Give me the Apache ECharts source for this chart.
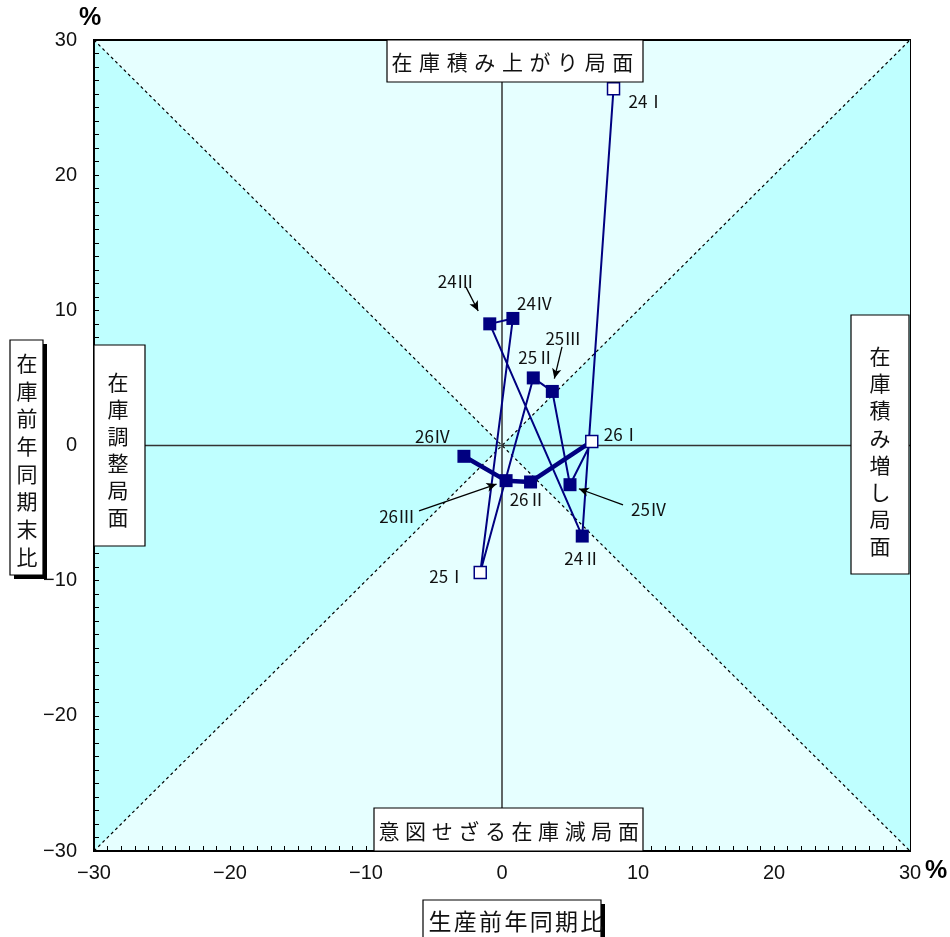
<!DOCTYPE html>
<html><head><meta charset="utf-8">
<script src="https://cdn.jsdelivr.net/npm/echarts@6/dist/echarts.min.js"></script>
<style>html,body{margin:0;padding:0;background:#fff}#c{width:950px;height:937px}</style>
</head><body><div id="c"></div><script>
// ---- data ----
const periods = ['24Ⅰ','24Ⅱ','24Ⅲ','24Ⅳ','25Ⅰ','25Ⅱ','25Ⅲ','25Ⅳ','26Ⅰ','26Ⅱ','26Ⅲ','26Ⅳ'];
const production = [8.2, 5.9, -0.9, 0.8, -1.6, 2.3, 3.7, 5.0, 6.6, 2.1, 0.3, -2.8];   // 生産前年同期比 (%)
const inventory  = [26.4, -6.7, 9.0, 9.4, -9.4, 5.0, 4.0, -2.9, 0.3, -2.7, -2.6, -0.8]; // 在庫前年同期末比 (%)
const axisMin = -30, axisMax = 30, axisStep = 10;
const xTitle = '生産前年同期比';
const yTitle = '在庫前年同期末比';
const phaseTop = '在庫積み上がり局面';
const phaseBottom = '意図せざる在庫減局面';
const phaseLeft = '在庫調整局面';
const phaseRight = '在庫積み増し局面';

// ---- annotation styling (pixel offsets of labels, arrow ends in axis units) ----
const labelOffsets = [[33,13],[0,22],[-34,-42],[22,-15],[-33,4],[3,-20],[11,-53],[79,25],[30,-7],[-3,18],[-109,36],[-31,-20]];
const arrows = [
  [[-2.65,11.72],[-1.75,9.95]],
  [[4.41,7.29],[3.85,4.95]],
  [[8.90,-4.40],[5.65,-3.2]],
  [[-6.10,-4.84],[-0.4,-2.85]]
];
const hollow = [0,4,8];
const thickFrom = 8;

const NAVY = '#000080';
const CJK = '"Noto Sans CJK JP", sans-serif';
const pts = periods.map((p,i)=>{
  const item = {name:p, value:[production[i], inventory[i]],
    label:{show:true, formatter:p, position:'inside', offset:labelOffsets[i],
      color:'#111', fontSize:17, fontFamily:CJK}};
  if (hollow.includes(i)) { item.itemStyle = {color:'#fff', borderColor:NAVY, borderWidth:1.5}; item.symbolSize = 12; }
  return item;
});
const thickPts = pts.slice(thickFrom).map(d=>d.value);

const chart = echarts.init(document.getElementById('c'), null, {renderer:'canvas'});
const minus = v => String(v).replace('-', '−');

function charBox(box, chars, positions, fontSize, shadow) {
  const els = [];
  if (shadow) els.push({type:'rect', shape:{x:box[0]+4, y:box[1]+4, width:box[2]-box[0], height:box[3]-box[1]}, style:{fill:'#000'}, z:100});
  els.push({type:'rect', shape:{x:box[0], y:box[1], width:box[2]-box[0], height:box[3]-box[1]}, style:{fill:'#fff', stroke:'#000', lineWidth:1.2}, z:101});
  [...chars].forEach((ch,i)=>{
    els.push({type:'text', x:positions[i][0], y:positions[i][1], z:102,
      style:{text:ch, fontSize:fontSize, fontFamily:CJK, fill:'#111', align:'center', verticalAlign:'middle'}});
  });
  return els;
}
function rowPos(cx0, step, y, n){ return Array.from({length:n},(_,i)=>[cx0+i*step, y]); }
function colPos(x, cy0, step, n){ return Array.from({length:n},(_,i)=>[x, cy0+i*step]); }

const graphics = [].concat(
  charBox([387,40,643,82], phaseTop, rowPos(402, 27.6, 62, 9), 21, false),
  charBox([374,808,643,851], phaseBottom, rowPos(389, 26.6, 831, 10), 21, false),
  charBox([94,345,145,546], phaseLeft, colPos(118, 382, 27, 6), 21, false),
  charBox([851,315,909,574], phaseRight, colPos(880, 356, 27.2, 8), 21, false),
  charBox([10,340,43,575], yTitle, colPos(27, 363, 27.7, 8), 21, true),
  charBox([423,900,601,945], xTitle, rowPos(440, 25.3, 921, 7), 23, true),
  [
    {type:'text', x:90, y:18, z:102, style:{text:'%', fontSize:25, fontWeight:'bold', fontFamily:'"Liberation Sans", Arial, sans-serif', fill:'#000', align:'center', verticalAlign:'middle'}},
    {type:'text', x:936, y:871, z:102, style:{text:'%', fontSize:25, fontWeight:'bold', fontFamily:'"Liberation Sans", Arial, sans-serif', fill:'#000', align:'center', verticalAlign:'middle'}}
  ]
);

const axisCommon = {
  type:'value', min:axisMin, max:axisMax, interval:axisStep,
  axisLine:{show:true, onZero:false, lineStyle:{color:'#000', width:2}},
  axisTick:{show:true, inside:true, length:5, lineStyle:{color:'#000', width:1}},
  minorTick:{show:true, splitNumber:10, length:5, lineStyle:{color:'#000', width:1}},
  splitLine:{show:false},
  axisLabel:{formatter:minus, color:'#111', fontSize:20, fontFamily:'"Liberation Sans", Arial, sans-serif'}
};

chart.setOption({
  animation:false,
  grid:{left:94, right:40, top:40, bottom:86, show:true, borderColor:'#000', borderWidth:2, backgroundColor:'#E6FFFF'},
  xAxis:Object.assign({}, axisCommon, {axisLabel:Object.assign({}, axisCommon.axisLabel, {margin:12})}),
  yAxis:Object.assign({}, axisCommon, {axisLabel:Object.assign({}, axisCommon.axisLabel, {margin:17})}),
  graphic:graphics,
  series:[
    {type:'custom', silent:true, z:0, data:[[0,0]],
      renderItem:(params, api)=>{
        const p=(x,y)=>api.coord([x,y]);
        return {type:'group', children:[
          {type:'polygon', shape:{points:[p(axisMin,axisMax),p(0,0),p(axisMin,axisMin)]}, style:{fill:'#BFFFFF'}},
          {type:'polygon', shape:{points:[p(axisMax,axisMax),p(0,0),p(axisMax,axisMin)]}, style:{fill:'#BFFFFF'}}
        ]};
      }},
    {type:'line', silent:true, z:1, symbol:'none', data:[[axisMin,axisMin],[axisMax,axisMax]], lineStyle:{color:'#000', width:1.2, type:[3,3]}},
    {type:'line', silent:true, z:1, symbol:'none', data:[[axisMin,axisMax],[axisMax,axisMin]], lineStyle:{color:'#000', width:1.2, type:[3,3]}},
    {type:'line', silent:true, z:2, symbol:'none', data:[[0,axisMin],[0,axisMax]], lineStyle:{color:'#333', width:1.5}},
    {type:'line', silent:true, z:2, symbol:'none', data:[[axisMin,0],[axisMax,0]], lineStyle:{color:'#333', width:1.5}},
    {type:'line', silent:true, z:3, symbol:'none', data:thickPts, lineStyle:{color:NAVY, width:4.5}},
    {type:'line', z:4, symbol:'rect', symbolSize:13, showAllSymbol:true, data:pts,
      itemStyle:{color:NAVY}, lineStyle:{color:NAVY, width:2},
      markLine:{silent:true, symbol:['none','arrow'], symbolSize:[7,10], label:{show:false},
        lineStyle:{color:'#000', width:1.3, type:'solid'},
        data:arrows.map(a=>[{coord:a[0]},{coord:a[1]}])}}
  ]
});
</script></body></html>
